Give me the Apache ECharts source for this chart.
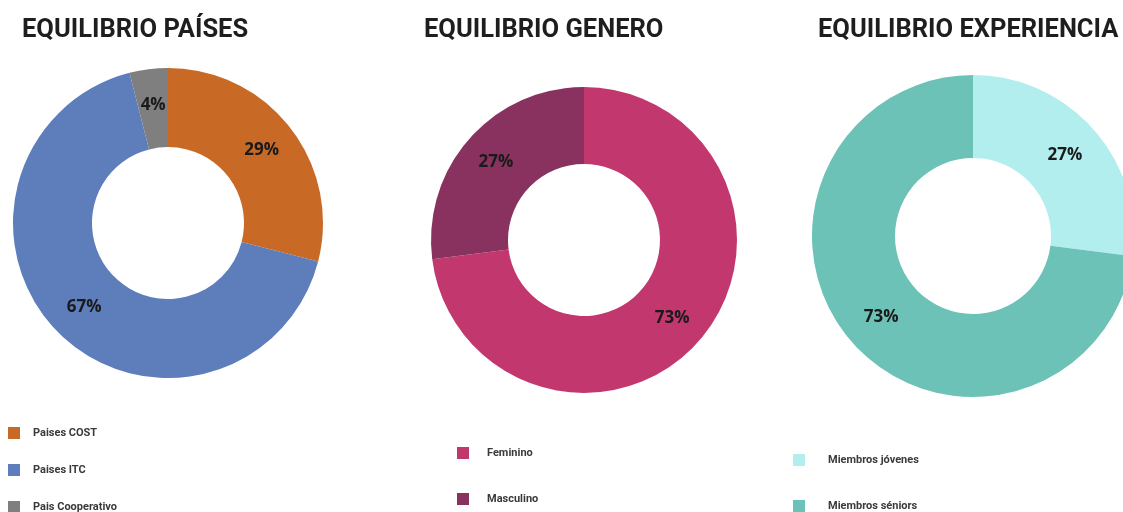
<!DOCTYPE html>
<html>
<head>
<meta charset="utf-8">
<script src="https://cdn.jsdelivr.net/npm/echarts@6/dist/echarts.min.js"></script>
<style>
html,body{margin:0;padding:0;background:#fff;}
#chart{width:1123px;height:512px;}
</style>
</head>
<body>
<div id="chart"></div>
<script>
// Data
const titles = ['EQUILIBRIO PAÍSES', 'EQUILIBRIO GENERO', 'EQUILIBRIO EXPERIENCIA'];
const paisesNames = ['Paises COST', 'Paises ITC', 'Pais Cooperativo'];
const paisesValues = [29, 67, 4];
const generoNames = ['Feminino', 'Masculino'];
const generoValues = [73, 27];
const experienciaNames = ['Miembros jóvenes', 'Miembros séniors'];
const experienciaValues = [27, 73];

const paisesColors = ['#C86A26', '#5E7DBB', '#7F7F7F'];
const generoColors = ['#C2386E', '#89325F'];
const experienciaColors = ['#B3EEEE', '#6CC2B6'];

function toData(names, values) {
  return names.map((n, i) => ({ name: n, value: values[i] }));
}

const labelStyle = {
  show: true,
  position: 'inside',
  formatter: p => p.value + '%',
  fontFamily: 'Open Sans',
  fontWeight: 'bold',
  fontSize: 17,
  color: '#1a1a1a'
};

function pie(names, values, colors, center, radius) {
  return {
    type: 'pie',
    center: center,
    radius: radius,
    startAngle: 90,
    clockwise: true,
    avoidLabelOverlap: false,
    label: labelStyle,
    labelLine: { show: false },
    emphasis: { disabled: true },
    color: colors,
    data: toData(names, values)
  };
}

function legend(names, left, top, gap, textGap) {
  return {
    data: names,
    orient: 'vertical',
    left: left,
    top: top,
    height: 300,
    padding: 0,
    icon: 'rect',
    itemWidth: 12,
    itemHeight: 12,
    itemGap: gap,
    selectedMode: false,
    textStyle: {
      fontFamily: 'Roboto',
      fontWeight: 'bold',
      fontSize: 11,
      color: '#3a3a3a',
      padding: [0, 0, 0, textGap]
    }
  };
}

const titleStyle = { fontFamily: 'Roboto', fontWeight: 'bold', fontSize: 25.5, color: '#1e1e1e' };

const chart = echarts.init(document.getElementById('chart'), null, { renderer: 'canvas' });
chart.setOption({
  animation: false,
  backgroundColor: '#ffffff',
  title: [
    { text: titles[0], left: 17, top: 13, textStyle: titleStyle },
    { text: titles[1], left: 419, top: 13, textStyle: titleStyle },
    { text: titles[2], left: 813, top: 13, textStyle: titleStyle }
  ],
  legend: [
    legend(paisesNames, 8, 427, 25, 8),
    legend(generoNames, 457, 447, 34, 13),
    legend(experienciaNames, 793, 454, 34, 18)
  ],
  series: [
    pie(paisesNames, paisesValues, paisesColors, [168, 223], [76, 155]),
    pie(generoNames, generoValues, generoColors, [584, 240], [76, 153]),
    pie(experienciaNames, experienciaValues, experienciaColors, [973, 236], [78, 161])
  ]
});
</script>
</body>
</html>
